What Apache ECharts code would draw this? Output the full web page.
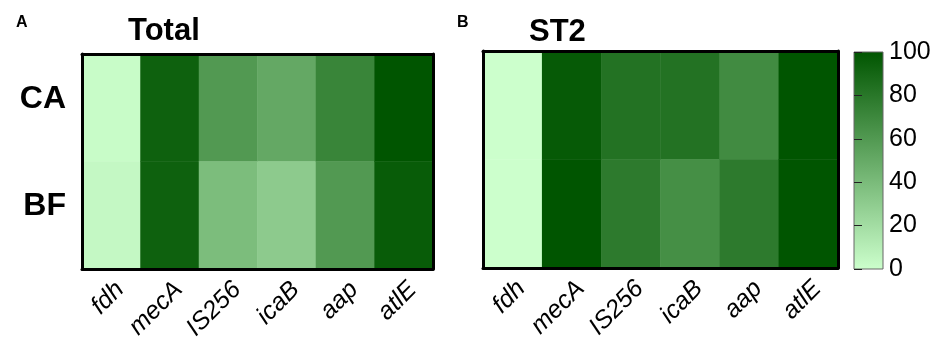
<!DOCTYPE html>
<html><head><meta charset="utf-8">
<script src="https://cdn.jsdelivr.net/npm/echarts@6/dist/echarts.min.js"></script>
<style>html,body{margin:0;padding:0;background:#fff}#c{width:934px;height:343px}</style>
</head><body><div id="c"></div>
<script>
var genes = ['fdh','mecA','IS256','icaB','aap','atlE'];
var rows = ['BF','CA'];
// values in % (0-100)
var totalCA = [2, 93, 60, 51, 72, 100];
var totalBF = [4, 93, 39, 31, 60, 96];
var st2CA  = [0, 97, 83, 83, 68, 100];
var st2BF  = [0, 100, 78, 66, 78, 100];
var cbTicks = [0, 20, 40, 60, 80, 100];
var lowColor = '#ccffcc', highColor = '#005500';

function toData(ca, bf){
  var d = [];
  for (var i=0;i<genes.length;i++){ d.push([i,1,ca[i]]); d.push([i,0,bf[i]]); }
  return d;
}
var FONT = 'Liberation Sans, Arial, sans-serif';
var chart = echarts.init(document.getElementById('c'), null, {renderer:'canvas'});
function xCat(gi){ return {gridIndex:gi,type:'category',data:genes,z:10,
  axisLine:{show:true,lineStyle:{color:'#000',width:3}},axisTick:{show:false},
  splitArea:{show:false},
  axisLabel:{rotate:45,fontSize:25,fontStyle:'italic',color:'#000',fontFamily:FONT,margin:8,verticalAlign:'top'}}; }
function xTop(gi){ return {gridIndex:gi,type:'category',data:genes,position:'top',z:10,
  axisLine:{show:true,lineStyle:{color:'#000',width:3}},axisTick:{show:false},axisLabel:{show:false}}; }
function yCat(gi,labels){ return {gridIndex:gi,type:'category',data:rows,z:10,
  axisLine:{show:true,lineStyle:{color:'#000',width:3}},axisTick:{show:false},
  axisLabel:{show:labels,fontSize:32,fontWeight:'bold',color:'#000',fontFamily:FONT,margin:16,
    verticalAlign:'bottom',lineHeight:18}}; }
function yRight(gi){ return {gridIndex:gi,type:'category',data:rows,position:'right',z:10,
  axisLine:{show:true,lineStyle:{color:'#000',width:3}},axisTick:{show:false},axisLabel:{show:false}}; }

var option = {
  backgroundColor:'#fff',
  animation:false,
  title:[
    {text:'A',left:11,top:10,textStyle:{fontSize:16,fontWeight:'bold',color:'#000',fontFamily:FONT}},
    {text:'B',left:452,top:10,textStyle:{fontSize:16,fontWeight:'bold',color:'#000',fontFamily:FONT}},
    {text:'Total',left:123,top:11,textStyle:{fontSize:31,fontWeight:'bold',color:'#000',fontFamily:FONT}},
    {text:'ST2',left:524,top:12,textStyle:{fontSize:31,fontWeight:'bold',color:'#000',fontFamily:FONT}}
  ],
  grid:[
    {left:82,top:54,width:351,height:215},
    {left:483,top:51,width:355,height:217},
    {left:854,top:52,width:29,height:217,show:true,borderColor:'#666',borderWidth:1,
     backgroundColor:new echarts.graphic.LinearGradient(0,0,0,1,[{offset:0,color:highColor},{offset:1,color:lowColor}])}
  ],
  xAxis:[xCat(0),xCat(1),xTop(0),xTop(1),
    {gridIndex:2,type:'value',min:0,max:1,show:false}],
  yAxis:[yCat(0,true),yCat(1,false),yRight(0),yRight(1),
    {gridIndex:2,type:'value',min:0,max:100,interval:20,position:'right',offset:-4,z:10,
     axisLine:{show:false},splitLine:{show:false},
     axisTick:{show:true,length:4,lineStyle:{color:'#222',width:1}},
     axisLabel:{fontSize:25,color:'#000',fontFamily:FONT,margin:10,
       formatter:function(v){return cbTicks.indexOf(v)>=0?String(v):'';}}},
    {gridIndex:2,type:'value',min:0,max:100,interval:20,position:'left',offset:-4,z:10,
     axisLine:{show:false},splitLine:{show:false},axisLabel:{show:false},
     axisTick:{show:true,length:4,lineStyle:{color:'#222',width:1}}}
  ],
  visualMap:{show:false,min:0,max:100,seriesIndex:[0,1],inRange:{color:[lowColor,highColor]}},
  series:[
    {type:'heatmap',xAxisIndex:0,yAxisIndex:0,data:toData(totalCA,totalBF),itemStyle:{borderWidth:0}},
    {type:'heatmap',xAxisIndex:1,yAxisIndex:1,data:toData(st2CA,st2BF),itemStyle:{borderWidth:0}}
  ]
};
chart.setOption(option);
</script></body></html>
